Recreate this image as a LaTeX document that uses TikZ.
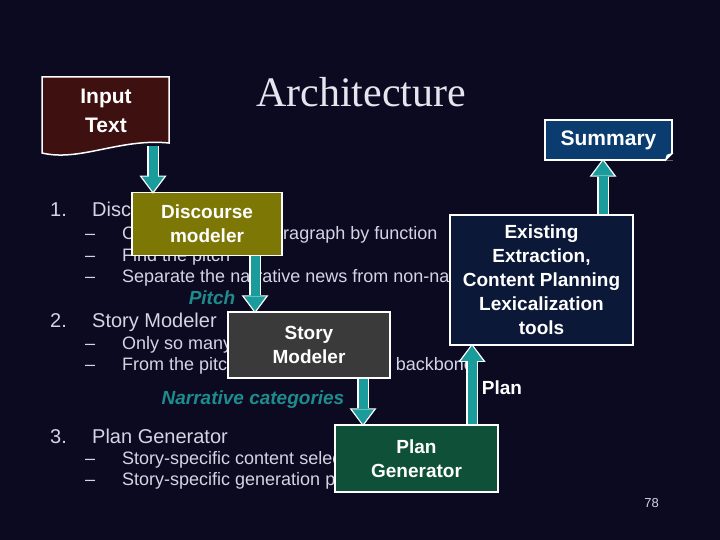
\documentclass[tikz,border=0pt]{standalone}
\usepackage{fontspec}
\setmainfont{Liberation Sans}
\newfontfamily\titlefont{Liberation Serif}
\usepackage{tikz}
\usetikzlibrary{arrows.meta,positioning,calc}
\definecolor{slidebg}{RGB}{11,10,32}
\definecolor{bodytxt}{RGB}{212,212,228}
\definecolor{flowteal}{RGB}{26,156,156}
\definecolor{labteal}{RGB}{30,140,140}
\definecolor{inred}{RGB}{62,16,16}
\definecolor{sumblue}{RGB}{10,60,112}
\definecolor{discolive}{RGB}{125,120,5}
\definecolor{storygray}{RGB}{58,58,58}
\definecolor{plangreen}{RGB}{14,80,56}
\definecolor{toolnavy}{RGB}{11,24,56}

\begin{document}
\begin{tikzpicture}[x=1pt,y=-1pt,
  box/.style={draw=white,line width=1.5pt,text=white,align=center,inner sep=0pt,
    font=\fontsize{19}{24}\selectfont\bfseries},
  flow/.style={line width=9pt,draw=flowteal,-{Triangle[width=22pt,length=15pt,line width=0pt]},
    preaction={draw=white,line width=12pt,shorten >=-2pt,-{Triangle[width=27pt,length=18pt,line width=0pt]}}},
  lab/.style={text=labteal,font=\fontsize{19}{22}\selectfont\bfseries\itshape},
  item/.style={anchor=base west,inner sep=0pt,text=bodytxt,font=\fontsize{20}{24}\selectfont},
  sub/.style={anchor=base west,inner sep=0pt,text=bodytxt,font=\fontsize{18}{21}\selectfont}]
\fill[slidebg] (0,0) rectangle (720,540);
\useasboundingbox (0,0) rectangle (720,540);

\node[anchor=base,text=bodytxt!60!white,font=\titlefont\fontsize{42}{48}\selectfont] (title) at (361,107) {Architecture};

\node[item] (n1) at (50,216) {1.};
\node[item] (h1) at (92,216) {Discourse Modeler};
\node[sub] (d11) at (85,240) {--};
\node[sub] (s11) at (122,240) {Categorize every paragraph by function};
\node[sub] (d12) at (85,261) {--};
\node[sub] (s12) at (122,261) {Find the pitch};
\node[sub] (d13) at (85,282) {--};
\node[sub] (s13) at (122,282) {Separate the narrative news from non-narrative news};
\node[item] (n2) at (50,327) {2.};
\node[item] (h2) at (92,327) {Story Modeler};
\node[sub] (d21) at (85,349) {--};
\node[sub] (s21) at (122,349) {Only so many story types};
\node[sub] (d22) at (85,370) {--};
\node[sub] (s22) at (122,370) {From the pitch, identify the story's backbone};
\node[item] (n3) at (50,443) {3.};
\node[item] (h3) at (92,443) {Plan Generator};
\node[sub] (d31) at (85,464) {--};
\node[sub] (s31) at (122,464) {Story-specific content selection};
\node[sub] (d32) at (85,485) {--};
\node[sub] (s32) at (122,485) {Story-specific generation plans};

\draw[white,line width=1.5pt,fill=inred] (42,153) .. controls (80,162) and (120,138) .. (169,143)
  -- (169,77) -- (42,77) -- cycle;
\node[text=white,align=center,font=\fontsize{21}{29}\selectfont\bfseries] (input) at (106,111) {Input\\Text};
\coordinate (inout) at (153,146);

\node[box,fill=sumblue,minimum width=127pt,minimum height=40pt,font=\fontsize{21}{24}\selectfont\bfseries] (summary) at (608.5,140) {Summary};
\fill[slidebg] (summary.south east) -- ([xshift=-8pt]summary.south east) -- ([yshift=8pt]summary.south east) -- cycle;
\draw[white,line width=1.5pt] ([xshift=-8pt]summary.south east) -- ([yshift=8pt]summary.south east);
\fill[white] ([xshift=-8pt]summary.south east) -- ([yshift=8pt]summary.south east) -- ([xshift=-6pt,yshift=6pt]summary.south east) -- cycle;

\node[box,fill=discolive,minimum width=150pt,minimum height=63pt] (disc) at (207,224) {Discourse\\modeler};
\node[box,fill=storygray,minimum width=162pt,minimum height=66pt] (story) at (309,345) {Story\\Modeler};
\node[box,fill=plangreen,minimum width=163pt,minimum height=67pt] (plan) at (416.5,458.5) {Plan\\Generator};
\node[box,fill=toolnavy,minimum width=183pt,minimum height=130pt] (tools) at (541.5,280)
  {Existing\\Extraction,\\Content Planning\\Lexicalization\\tools};

\draw[flow] (inout) -- (inout |- disc.north);
\draw[flow] ([xshift=48pt]disc.south) -- ([xshift=48pt]disc.south |- story.north);
\draw[flow] ([xshift=54pt]story.south) -- ([xshift=54pt]story.south |- plan.north);
\draw[flow] ([xshift=55.5pt]plan.north) -- ([xshift=55.5pt]plan.north |- tools.south);
\draw[flow] ([xshift=-5.5pt]summary.south |- tools.north) -- ([xshift=-5.5pt]summary.south);

\node[lab] (pitch) at (212,298) {Pitch};
\node[lab] (narr) at (253,400) {Narrative categories};
\node[text=white,font=\fontsize{19}{22}\selectfont\bfseries] (planlab) at (502,388) {Plan};

\node[text=bodytxt,font=\fontsize{13}{15}\selectfont] (pgno) at (651.5,503.5) {78};
\end{tikzpicture}
\end{document}
